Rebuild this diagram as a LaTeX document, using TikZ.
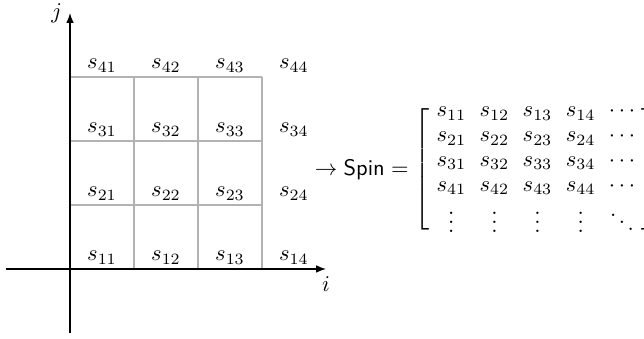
\documentclass[tikz,border=0pt]{standalone}
\usepackage{amsmath}
\usetikzlibrary{arrows.meta}
\tikzset{
  gridline/.style={gray!60, line width=0.5pt},
  axisline/.style={-{Latex[length=4.4pt,width=3.4pt]}, line width=0.6pt},
  spinlabel/.style={above, inner sep=2pt},
}
\begin{document}
\begin{tikzpicture}
    \useasboundingbox (-1.094,-1.094) rectangle (8.969,4.203);
    \clip (-1.094,-1.094) rectangle (8.969,4.203);
    % define point
    \coordinate (xl) at (-1,0);
    \coordinate (xr) at (4,0);
    \coordinate (yb) at (0,-1);
    \coordinate (yt) at (0,4);
    % lattice
    \draw[gridline] (0,0) grid (3,3);
    % axes
    \draw[axisline] (xl) -- (xr) node[below] (ilabel) {$i$};
    \draw[axisline] (yb) -- (yt) node[left] (jlabel) {$j$};
    % spins on the lattice
    \foreach \i in {1,...,4}
      \foreach \j in {1,...,4}
        \node[spinlabel] (s\j\i) at (\i-0.5,\j-1) {$s_{\j\i}$};
    % spin matrix
    \node[anchor=west, inner sep=0pt] (spin) at (3.82,1.55) {%
      \setlength{\arraycolsep}{3.0pt}\renewcommand{\arraystretch}{0.92}%
      \delimiterfactor=800 \delimitershortfall=10pt
      $\rightarrow \textsf{Spin} = \left[\begin{array}{ccccc}
        s_{11} & s_{12} & s_{13} & s_{14} & \cdots\\
        s_{21} & s_{22} & s_{23} & s_{24} & \cdots\\
        s_{31} & s_{32} & s_{33} & s_{34} & \cdots\\
        s_{41} & s_{42} & s_{43} & s_{44} & \cdots\\
        \vdots & \vdots & \vdots & \vdots & \ddots
      \end{array}\right]$};
\end{tikzpicture}
\end{document}
